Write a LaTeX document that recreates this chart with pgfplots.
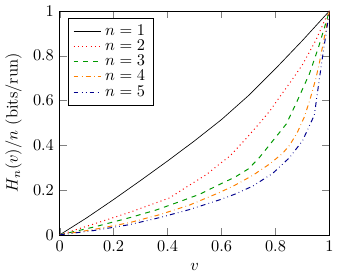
\documentclass[border=0pt]{standalone}
\usepackage{pgfplots}
\pgfplotsset{compat=1.18}
\begin{document}
\begin{tikzpicture}
\begin{axis}[
  scale only axis,
  width=165pt, height=137pt,
  xmin=0, xmax=1, ymin=0, ymax=1,
  xlabel={$v$},
  ylabel={$H_n(v)/n$ (bits/run)},
  legend pos=north west,
  legend cell align=left,
  legend style={row sep=-2.6pt, at={(0.03,0.97)}},
  xtick={0,0.2,0.4,0.6,0.8,1},
  ytick={0,0.2,0.4,0.6,0.8,1},
  xticklabels={0,0.2,0.4,0.6,0.8,1},
  yticklabels={0,0.2,0.4,0.6,0.8,1},
]
\addplot[black] coordinates {(0,0) (0.1,0.076) (0.2,0.158) (0.3,0.243) (0.4,0.33) (0.5,0.42) (0.6,0.515) (0.7,0.622) (0.8,0.742) (0.9,0.868) (1,1)};
\addlegendentry{$n=1$}
\addplot[red, dotted, semithick] coordinates {(0,0) (0.13,0.05) (0.26,0.101) (0.407,0.165) (0.481,0.222) (0.545,0.27) (0.594,0.318) (0.631,0.352) (0.691,0.43) (0.742,0.5) (0.78,0.555) (0.815,0.615) (0.86,0.69) (0.9,0.76) (0.95,0.87) (0.988,0.973) (1,1)};
\addlegendentry{$n=2$}
\addplot[green!60!black, dashed, semithick] coordinates {(0,0) (0.13,0.036) (0.26,0.077) (0.36,0.112) (0.446,0.149) (0.52,0.182) (0.594,0.226) (0.65,0.258) (0.7,0.295) (0.74,0.345) (0.78,0.405) (0.84,0.495) (0.879,0.594) (0.926,0.72) (0.96,0.84) (1,1)};
\addlegendentry{$n=3$}
\addplot[orange, dash dot, semithick] coordinates {(0,0) (0.13,0.025) (0.26,0.055) (0.37,0.09) (0.481,0.133) (0.594,0.19) (0.65,0.222) (0.716,0.266) (0.78,0.318) (0.827,0.365) (0.852,0.4) (0.88,0.455) (0.907,0.527) (0.928,0.605) (0.95,0.7) (0.963,0.77) (1,1)};
\addlegendentry{$n=4$}
\addplot[blue!55!black, dash dot dot, semithick] coordinates {(0,0) (0.13,0.02) (0.26,0.046) (0.37,0.077) (0.481,0.113) (0.594,0.157) (0.65,0.182) (0.716,0.218) (0.79,0.275) (0.852,0.345) (0.9,0.42) (0.944,0.535) (0.963,0.7) (0.975,0.8) (1,1)};
\addlegendentry{$n=5$}
\end{axis}
\end{tikzpicture}
\end{document}
